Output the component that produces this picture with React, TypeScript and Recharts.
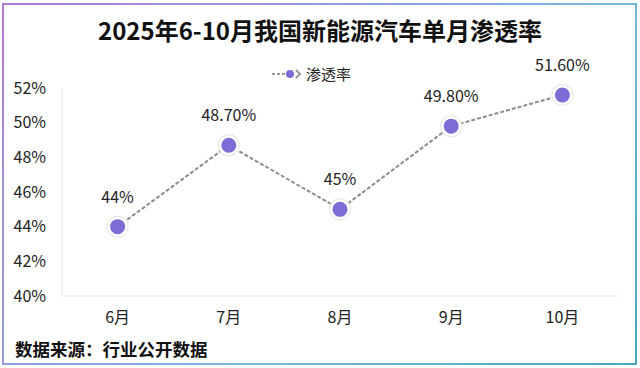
import React from "react";
import { LineChart, Line, XAxis, YAxis, LabelList } from "recharts";

const months = ["6月", "7月", "8月", "9月", "10月"];
const penetration = [44, 48.7, 45, 49.8, 51.6];
const valueLabels = ["44%", "48.70%", "45%", "49.80%", "51.60%"];
const yTicks = [40, 42, 44, 46, 48, 50, 52];

const data = months.map((m, i) => ({
	month: m,
	rate: penetration[i],
	label: valueLabels[i],
}));

const FONT = '"Noto Sans CJK SC", "Noto Sans", sans-serif';
const PURPLE = "#7b6cd6";

const Dot = (props: any) => {
	const { cx, cy, index } = props;
	if (cx == null || cy == null) return null;
	return (
		<g key={`dot-${index}`}>
			<circle cx={cx} cy={cy} r={11} fill="#e6e6e6" />
			<circle cx={cx} cy={cy} r={10} fill="#fff" />
			<circle cx={cx} cy={cy} r={7.5} fill={PURPLE} />
		</g>
	);
};

const App = () => {
	return (
		<div
			style={{
				position: "fixed",
				left: 0,
				top: 0,
				width: 640,
				height: 368,
				background: "#fff",
				fontFamily: FONT,
			}}
		>
			<div
				style={{
					position: "absolute",
					left: 2,
					top: 3,
					width: 635,
					height: 362,
					boxSizing: "border-box",
					border: "2px solid transparent",
					background:
						"linear-gradient(#fff, #fff) padding-box, linear-gradient(135deg, #b27ad6, #7ab6e2 60%, #46a6c6) border-box",
				}}
			/>
			<div
				style={{
					position: "absolute",
					left: 0,
					top: 14,
					width: 640,
					textAlign: "center",
					fontSize: 24,
					fontWeight: 700,
					color: "#111",
					lineHeight: "32px",
				}}
			>
				2025年6-10月我国新能源汽车单月渗透率
			</div>
			{/* legend */}
			<div
				style={{
					position: "absolute",
					left: 272,
					top: 64,
					display: "flex",
					alignItems: "center",
					fontSize: 15,
					color: "#222",
					lineHeight: "20px",
				}}
			>
				<svg width={30} height={12} style={{ marginRight: 4 }}>
					<line x1={0} y1={6} x2={14} y2={6} stroke="#999" strokeWidth={2} strokeDasharray="3 2" />
					<circle cx={18} cy={6} r={4} fill={PURPLE} />
					<path d="M24 2 L28 6 L24 10" fill="none" stroke="#999" strokeWidth={2} />
				</svg>
				<span>渗透率</span>
			</div>
			<div style={{ position: "absolute", left: 0, top: 0 }}>
				<LineChart
					width={640}
					height={368}
					data={data}
					margin={{ top: 88, right: 22, bottom: 42, left: 0 }}
				>
					<XAxis
						dataKey="month"
						scale="band"
						height={30}
						axisLine={{ stroke: "#e2e2e2" }}
						tickLine={false}
						tick={{ fill: "#222", fontSize: 16, fontFamily: FONT }}
						tickMargin={10}
					/>
					<YAxis
						width={62}
						domain={[40, 52]}
						ticks={yTicks}
						tickFormatter={(v: number) => `${v}%`}
						axisLine={{ stroke: "#e2e2e2" }}
						tickLine={false}
						tick={{ fill: "#222", fontSize: 16, fontFamily: FONT }}
						tickMargin={10}
						interval={0}
					/>
					<Line
						type="linear"
						dataKey="rate"
						stroke="#8c8c8c"
						strokeWidth={2}
						strokeDasharray="4 2"
						dot={<Dot />}
						activeDot={false}
						isAnimationActive={false}
					>
						<LabelList
							dataKey="label"
							position="top"
							offset={24}
							style={{ fill: "#222", fontSize: 16, fontFamily: FONT }}
						/>
					</Line>
				</LineChart>
			</div>
			<div
				style={{
					position: "absolute",
					left: 15,
					top: 337,
					fontSize: 17.5,
					fontWeight: 700,
					color: "#111",
					lineHeight: "24px",
				}}
			>
				数据来源：行业公开数据
			</div>
		</div>
	);
};

export default App;
